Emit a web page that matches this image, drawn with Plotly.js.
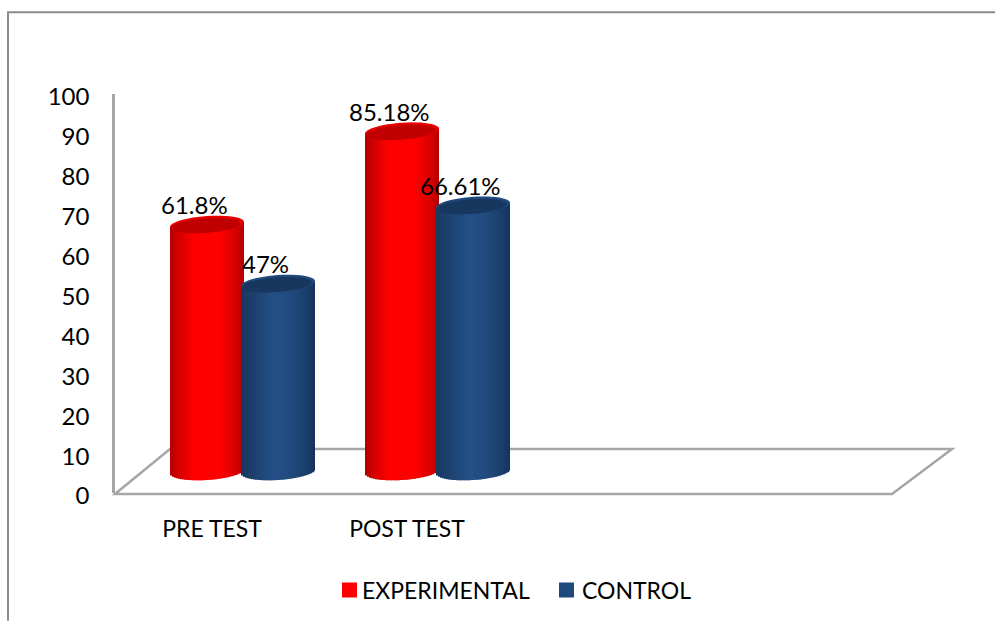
<!DOCTYPE html>
<html>
<head>
<meta charset="utf-8">
<script src="https://cdn.plot.ly/plotly-3.0.1.min.js"></script>
<style>html,body{margin:0;padding:0;background:#fff}#chart{width:995px;height:622px}</style>
</head>
<body>
<div id="chart"></div>
<script>
var categories = ['PRE TEST', 'POST TEST'];
var categoryPositions = [0, 1];
var experimental = [61.8, 85.18];
var control = [47, 66.61];
var yTicks = [0, 10, 20, 30, 40, 50, 60, 70, 80, 90, 100];

var FONT = 'Lato, Carlito, "Open Sans", sans-serif';
var W = 995, H = 622, L = 115, R = 952, T = 94, B = 494;
var plotW = R - L, plotH = B - T;
var pxPerX = 195, pxPerY = 4;
var xLabel0 = 212, xBar0 = 242.5, yBar0 = 472;

var xRange = [(L - xLabel0) / pxPerX, (R - xLabel0) / pxPerX];
var xShift = (xBar0 - xLabel0) / pxPerX;
var x2Range = [xRange[0] - xShift, xRange[1] - xShift];
var y2Range = [-(B - yBar0) / pxPerY, (yBar0 - T) / pxPerY];

var barW = 74 / pxPerX, rx = 37 / pxPerX, ry = 8.5 / pxPerY, tilt = 2.5 / pxPerY;
var centers = [-35.5 / pxPerX, 35.5 / pxPerX];

function hex(c){return '#'+c.map(function(v){var s=Math.round(v).toString(16);return s.length<2?'0'+s:s}).join('')}
function rgb(h){return [1,3,5].map(function(i){return parseInt(h.substr(i,2),16)})}
function ramp(stops,u){
  for(var i=0;i<stops.length-1;i++){
    if(u<=stops[i+1][0]){
      var t=(u-stops[i][0])/(stops[i+1][0]-stops[i][0]),a=rgb(stops[i][1]),b=rgb(stops[i+1][1]);
      return hex(a.map(function(v,k){return v+(b[k]-v)*t}));
    }
  }
  return stops[stops.length-1][1];
}
var redStops = [[-1,'#b00000'],[-0.8,'#d00000'],[-0.35,'#ff0000'],[0.35,'#ff0000'],[0.8,'#d40000'],[1,'#b00000']];
var blueStops = [[-1,'#17375e'],[-0.7,'#1b3f6c'],[-0.1,'#245086'],[0.3,'#214b7e'],[0.75,'#1b3f6c'],[1,'#16335a']];

var series = [
  {name:'EXPERIMENTAL', values:experimental, color:'#ff0000', stops:redStops, cap:'#c00000', rim:'#e60000', c:centers[0]},
  {name:'CONTROL', values:control, color:'#1f497d', stops:blueStops, cap:'#17375e', rim:'#1f497d', c:centers[1]}
];

var traces = [];
var shapes = [];
var annotations = [];
var N = 37;

function px(x){return (x-L)/plotW}
function py(y){return (B-y)/plotH}
var grey = '#a6a6a6';
shapes.push({type:'path',xref:'paper',yref:'paper',layer:'below',
  path:'M '+px(8)+' '+py(622)+' L '+px(8)+' '+py(12)+' L '+px(995)+' '+py(12),
  line:{color:'#8c8c8c',width:2}});
shapes.push({type:'path',xref:'paper',yref:'paper',layer:'below',
  path:'M '+px(115)+' '+py(495)+' L '+px(170)+' '+py(450)+' L '+px(952)+' '+py(450)+' L '+px(892)+' '+py(495)+' Z',
  line:{color:grey,width:2.5}});

function ellipsePath(cx, cy, a, b, t, n){
  var d='';
  for(var i=0;i<n;i++){
    var th=2*Math.PI*i/n, u=Math.cos(th);
    d+=(i?' L ':'M ')+(cx+a*u)+' '+(cy+b*Math.sin(th)+t*u);
  }
  return d+' Z';
}

traces.push({type:'scatter',mode:'none',x:categoryPositions,y:[null,null],xaxis:'x',yaxis:'y',showlegend:false,hoverinfo:'skip'});

series.forEach(function(s){
  traces.push({type:'bar',name:s.name,x:categoryPositions,y:s.values,xaxis:'x2',yaxis:'y2',
    width:barW*0.6,offset:s.c-barW*0.3,marker:{color:s.color,line:{width:0}},showlegend:true,hoverinfo:'x+y'});
});
series.forEach(function(s){
  for(var i=0;i<N;i++){
    var u0=-1+2*i/N, u1=-1+2*(i+1)/N, u=(u0+u1)/2;
    var drop=ry*Math.sqrt(Math.max(0,1-u*u))*1.05;
    var baseEdge=-drop+tilt*u;
    var base=s.values.map(function(){return baseEdge});
    var top=s.values.map(function(v){return v+tilt*u-baseEdge});
    var w=(u1-u0)*rx;
    traces.push({type:'bar',x:categoryPositions,y:top,base:base,xaxis:'x2',yaxis:'y2',
      width:w+(i<N-1?w*0.6:0),offset:s.c+u0*rx,marker:{color:ramp(s.stops,u),line:{width:0}},
      showlegend:false,hoverinfo:'skip'});
  }
  s.values.forEach(function(v,k){
    var cx=categoryPositions[k]+s.c;
    shapes.push({type:'path',xref:'x2',yref:'y2',layer:'above',path:ellipsePath(cx,v,rx,ry,tilt,48),
      fillcolor:s.rim,line:{width:0}});
    shapes.push({type:'path',xref:'x2',yref:'y2',layer:'above',path:ellipsePath(cx-0.006,v-0.3,rx*0.94,ry*0.86,tilt,48),
      fillcolor:s.cap,line:{width:0}});
    annotations.push({xref:'x2',yref:'y2',x:cx,y:v,xshift:-13,yshift:20,text:v+'%',showarrow:false,
      font:{family:FONT,size:24,color:'#000'},xanchor:'center',yanchor:'middle'});
  });
});

var layout = {
  width:W,height:H,paper_bgcolor:'#fff',plot_bgcolor:'rgba(0,0,0,0)',
  margin:{l:L,r:W-R,t:T,b:H-B,pad:0},
  barmode:'overlay',
  font:{family:FONT,size:23,color:'#000'},
  xaxis:{range:xRange,tickmode:'array',tickvals:categoryPositions,ticktext:categories,showgrid:false,zeroline:false,
    showline:false,ticks:'',ticklabelstandoff:20,tickfont:{family:FONT,size:23,color:'#000'}},
  yaxis:{range:[0,100],tickmode:'array',tickvals:yTicks,showgrid:false,zeroline:false,showline:true,
    linecolor:grey,linewidth:2.5,ticks:'',ticklabelstandoff:18,ticklabelshift:3,tickfont:{family:FONT,size:24,color:'#000'}},
  xaxis2:{overlaying:'x',range:x2Range,visible:false,fixedrange:true},
  yaxis2:{overlaying:'y',range:y2Range,visible:false,fixedrange:true},
  legend:{orientation:'h',x:px(322),xanchor:'left',y:py(590),yanchor:'middle',entrywidth:175,entrywidthmode:'pixels',
    font:{family:FONT,size:23,color:'#000'},bgcolor:'rgba(0,0,0,0)',traceorder:'normal'},
  shapes:shapes,annotations:annotations,showlegend:true
};
Plotly.newPlot('chart',traces,layout,{displayModeBar:false,responsive:false}).then(function(){
  var dx=[27.5,24.5];
  document.querySelectorAll('.legend .legendpoints path').forEach(function(p,i){
    p.setAttribute('transform','translate('+dx[i]+',0) scale(1.25)');
  });
});
</script>
</body>
</html>
